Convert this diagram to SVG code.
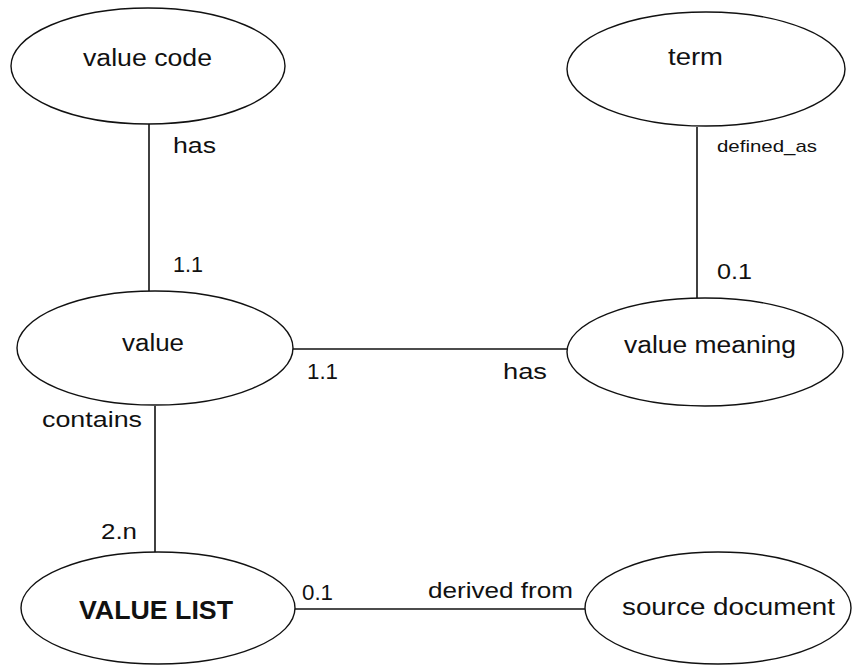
<svg xmlns="http://www.w3.org/2000/svg" width="852" height="666" viewBox="0 0 852 666">
  <style>
    .entity { fill: #ffffff; stroke: #111111; stroke-width: 1.4; }
    .link { stroke: #111111; stroke-width: 1.6; fill: none; }
    text { font-family: "Liberation Sans", Arial, sans-serif; fill: #111111; }
    .name { font-size: 23px; }
    .bold { font-size: 26px; font-weight: bold; }
    .lbl { font-size: 22px; }
    .small { font-size: 17px; }
  </style>
  <rect width="852" height="666" fill="#ffffff"/>

  <!-- relationships -->
  <g id="connectors">
    <line class="link" x1="149" y1="124" x2="149" y2="291"/>
    <line class="link" x1="697" y1="127" x2="697" y2="298"/>
    <line class="link" x1="292" y1="349" x2="567" y2="349"/>
    <line class="link" x1="155" y1="406" x2="155" y2="552"/>
    <line class="link" x1="295" y1="609" x2="585" y2="609"/>

    <text class="lbl" x="173" y="153" textLength="43" lengthAdjust="spacingAndGlyphs">has</text>
    <text class="lbl" x="173" y="272" textLength="30" lengthAdjust="spacingAndGlyphs">1.1</text>
    <text class="small" x="717" y="152" textLength="100" lengthAdjust="spacingAndGlyphs">defined_as</text>
    <text class="lbl" x="717" y="279" textLength="35" lengthAdjust="spacingAndGlyphs">0.1</text>
    <text class="lbl" x="307" y="379" textLength="31" lengthAdjust="spacingAndGlyphs">1.1</text>
    <text class="lbl" x="503" y="379" textLength="44" lengthAdjust="spacingAndGlyphs">has</text>
    <text class="lbl" x="42" y="427" textLength="100" lengthAdjust="spacingAndGlyphs">contains</text>
    <text class="lbl" x="101" y="539" textLength="36" lengthAdjust="spacingAndGlyphs">2.n</text>
    <text class="lbl" x="302" y="600" textLength="31" lengthAdjust="spacingAndGlyphs">0.1</text>
    <text class="lbl" x="428" y="598" textLength="145" lengthAdjust="spacingAndGlyphs">derived from</text>
  </g>

  <g id="value-code">
    <ellipse class="entity" cx="148" cy="66" rx="137" ry="58"/>
    <text class="name" x="83" y="66" textLength="129" lengthAdjust="spacingAndGlyphs">value code</text>
  </g>

  <g id="term">
    <ellipse class="entity" cx="706" cy="69" rx="139" ry="57"/>
    <text class="name" x="668" y="65" textLength="55" lengthAdjust="spacingAndGlyphs">term</text>
  </g>

  <g id="value">
    <ellipse class="entity" cx="155" cy="348" rx="138" ry="57"/>
    <text class="name" x="122" y="351" textLength="62" lengthAdjust="spacingAndGlyphs">value</text>
  </g>

  <g id="value-meaning">
    <ellipse class="entity" cx="705" cy="352" rx="138" ry="54"/>
    <text class="name" x="624" y="353" textLength="172" lengthAdjust="spacingAndGlyphs">value meaning</text>
  </g>

  <g id="value-list">
    <ellipse class="entity" cx="158" cy="608" rx="137" ry="56"/>
    <text class="bold" x="79" y="619" textLength="154" lengthAdjust="spacingAndGlyphs">VALUE LIST</text>
  </g>

  <g id="source-document">
    <ellipse class="entity" cx="718" cy="608" rx="133" ry="56"/>
    <text class="name" x="622" y="615" textLength="213" lengthAdjust="spacingAndGlyphs">source document</text>
  </g>
</svg>
